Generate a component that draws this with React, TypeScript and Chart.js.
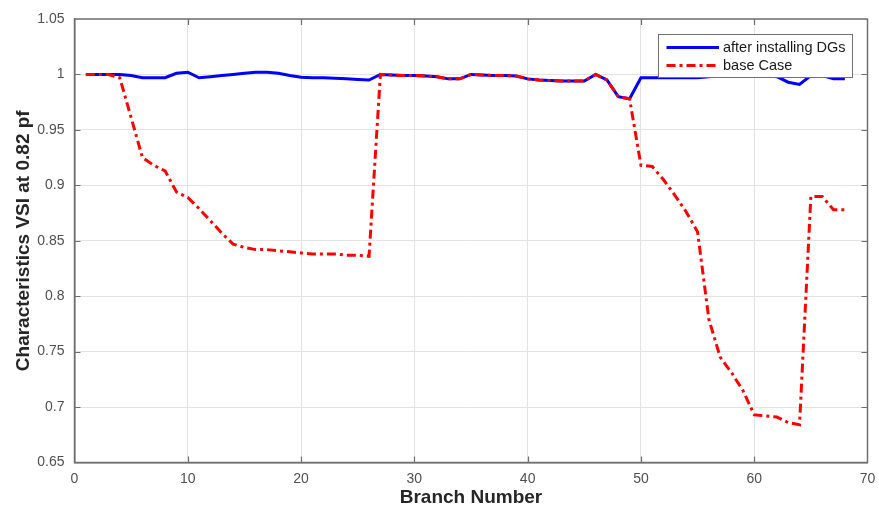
import React, { useEffect, useRef } from "react";
import { Chart, registerables } from "chart.js";

Chart.register(...registerables);

const branches = [
  1, 2, 3, 4, 5, 6, 7, 8, 9, 10, 11, 12, 13, 14, 15, 16, 17, 18, 19, 20,
  21, 22, 23, 24, 25, 26, 27, 28, 29, 30, 31, 32, 33, 34, 35, 36, 37, 38, 39, 40,
  41, 42, 43, 44, 45, 46, 47, 48, 49, 50, 51, 52, 53, 54, 55, 56, 57, 58, 59, 60,
  61, 62, 63, 64, 65, 66, 67, 68,
];

const afterDG = [
  1.0, 1.0, 1.0, 1.0, 0.999, 0.997, 0.997, 0.997, 1.001, 1.002,
  0.997, 0.998, 0.999, 1.0, 1.001, 1.002, 1.002, 1.001, 0.999, 0.9975,
  0.997, 0.997, 0.9965, 0.996, 0.9955, 0.995, 1.0, 0.9995, 0.999, 0.999,
  0.9985, 0.998, 0.996, 0.996, 1.0, 0.9995, 0.999, 0.999, 0.9985, 0.996,
  0.995, 0.9945, 0.994, 0.994, 0.994, 1.0, 0.995, 0.98, 0.978, 0.997,
  0.997, 0.997, 0.997, 0.997, 0.997, 0.998, 0.999, 0.999, 0.999, 0.999,
  0.999, 0.998, 0.993, 0.991, 0.999, 0.999, 0.996, 0.996,
];

const baseCase = [
  1.0, 1.0, 1.0, 0.997, 0.961, 0.925, 0.918, 0.913, 0.894, 0.889,
  0.879, 0.868, 0.857, 0.847, 0.844, 0.842, 0.842, 0.841, 0.84, 0.839,
  0.838, 0.838, 0.838, 0.837, 0.837, 0.836, 1.0, 0.9995, 0.999, 0.999,
  0.9985, 0.998, 0.996, 0.996, 1.0, 0.9995, 0.999, 0.999, 0.9985, 0.996,
  0.995, 0.9945, 0.994, 0.994, 0.994, 1.0, 0.995, 0.98, 0.978, 0.918,
  0.917, 0.905, 0.891, 0.876, 0.858, 0.779, 0.745, 0.731, 0.715, 0.693,
  0.692, 0.691, 0.686, 0.684, 0.89, 0.89, 0.878, 0.878,
];

const seriesLabels = ["after installing DGs", "base Case"];
const xTitle = "Branch Number";
const yTitle = "Characteristics VSI at 0.82 pf";

const FONT = '"Liberation Sans", Arial, Helvetica, sans-serif';

const frameTicks = {
  id: "frameTicks",
  afterDatasetsDraw(chart: any) {
    const { ctx, chartArea, scales } = chart;
    const { left, right, top, bottom } = chartArea;
    const len = 6;
    ctx.save();
    ctx.strokeStyle = "#6f6f6f";
    ctx.lineWidth = 1.2;
    scales.x.ticks.forEach((t: any) => {
      const px = Math.round(scales.x.getPixelForValue(t.value)) + 0.5;
      if (px <= left + 1 || px >= right - 1) return;
      ctx.beginPath();
      ctx.moveTo(px, bottom);
      ctx.lineTo(px, bottom - len);
      ctx.moveTo(px, top);
      ctx.lineTo(px, top + len);
      ctx.stroke();
    });
    scales.y.ticks.forEach((t: any) => {
      const py = Math.round(scales.y.getPixelForValue(t.value)) + 0.5;
      if (py <= top + 1 || py >= bottom - 1) return;
      ctx.beginPath();
      ctx.moveTo(left, py);
      ctx.lineTo(left + len, py);
      ctx.moveTo(right, py);
      ctx.lineTo(right - len, py);
      ctx.stroke();
    });
    ctx.lineWidth = 1.5;
    ctx.strokeStyle = "#707070";
    ctx.strokeRect(left, top, right - left, bottom - top);
    ctx.restore();
  },
};

const legendBox = {
  id: "legendBox",
  afterDraw(chart: any) {
    const { ctx, chartArea } = chart;
    const w = 194;
    const h = 43;
    const x = Math.round(chartArea.right - 16 - w);
    const y = Math.round(chartArea.top + 15);
    ctx.save();
    ctx.fillStyle = "#ffffff";
    ctx.fillRect(x, y, w, h);
    ctx.strokeStyle = "#707070";
    ctx.lineWidth = 1;
    ctx.strokeRect(x + 0.5, y + 0.5, w, h);
    chart.data.datasets.forEach((ds: any, i: number) => {
      const cy = y + 13.5 + i * 18;
      ctx.strokeStyle = ds.borderColor;
      ctx.lineWidth = ds.borderWidth;
      ctx.setLineDash(ds.borderDash || []);
      ctx.beginPath();
      ctx.moveTo(x + 8.5, cy);
      ctx.lineTo(x + 61, cy);
      ctx.stroke();
      ctx.setLineDash([]);
      ctx.fillStyle = "#1a1a1a";
      ctx.font = `14.5px ${FONT}`;
      ctx.textBaseline = "middle";
      ctx.textAlign = "left";
      ctx.fillText(ds.label, x + 65, cy);
    });
    ctx.restore();
  },
};

export default function App() {
  const ref = useRef<HTMLCanvasElement | null>(null);

  useEffect(() => {
    if (!ref.current) return;
    const chart = new Chart(ref.current, {
      type: "line",
      data: {
        datasets: [
          {
            label: seriesLabels[0],
            data: branches.map((b, i) => ({ x: b, y: afterDG[i] })),
            borderColor: "#0000ff",
            borderWidth: 3,
            pointRadius: 0,
            tension: 0,
            fill: false,
            order: 1,
          },
          {
            label: seriesLabels[1],
            data: branches.map((b, i) => ({ x: b, y: baseCase[i] })),
            borderColor: "#ff0000",
            borderWidth: 3,
            borderDash: [9, 4, 3, 4],
            pointRadius: 0,
            tension: 0,
            fill: false,
            order: 0,
          },
        ],
      },
      options: {
        responsive: false,
        animation: false,
        layout: { padding: { top: 19, right: 11.5, left: 0, bottom: 0 } },
        plugins: {
          legend: { display: false },
          tooltip: { enabled: false },
        },
        scales: {
          x: {
            type: "linear",
            min: 0,
            max: 70,
            ticks: {
              stepSize: 10,
              color: "#505050",
              font: { family: FONT, size: 14 },
              padding: 8,
              maxRotation: 0,
            },
            grid: { color: "#e3e3e3", lineWidth: 1, drawTicks: false },
            border: { display: true, color: "#707070", width: 1.5 },
            title: {
              display: true,
              text: xTitle,
              color: "#262626",
              font: { family: FONT, size: 19, weight: "bold" },
              padding: { top: 0, bottom: 1 },
            },
            afterFit: (s: any) => {
              s.height = 47.5;
              s.paddingLeft = 0;
              s.paddingRight = 0;
            },
          },
          y: {
            type: "linear",
            min: 0.65,
            max: 1.05,
            ticks: {
              stepSize: 0.05,
              color: "#505050",
              font: { family: FONT, size: 14 },
              padding: 10,
              callback: (v: any) => String(+Number(v).toFixed(2)),
            },
            grid: { color: "#e3e3e3", lineWidth: 1, drawTicks: false },
            border: { display: true, color: "#707070", width: 1.5 },
            title: {
              display: true,
              text: yTitle,
              color: "#262626",
              font: { family: FONT, size: 19, weight: "bold" },
              padding: { top: 12, bottom: 0 },
            },
            afterFit: (s: any) => {
              s.width = 74.5;
              s.paddingTop = 0;
              s.paddingBottom = 0;
            },
          },
        },
      },
      plugins: [frameTicks, legendBox],
    });
    return () => chart.destroy();
  }, []);

  return (
    <div style={{ position: "fixed", left: 0, top: 0, width: 879, height: 510, background: "#fff" }}>
      <canvas ref={ref} width={879} height={510} style={{ display: "block" }} />
    </div>
  );
}
